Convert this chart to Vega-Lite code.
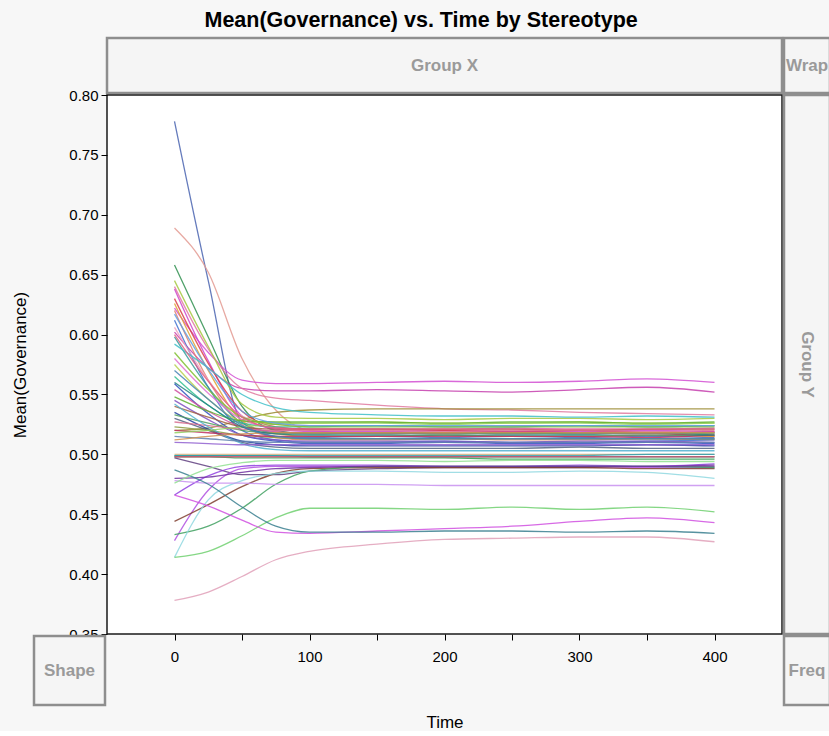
{
"$schema": "https://vega.github.io/schema/vega-lite/v6.json",
"background": "#f7f7f7",
"padding": {"left": 11, "top": 10, "right": 0, "bottom": 0},
"title": {"text": "Mean(Governance) vs. Time by Stereotype", "fontSize": 21.5, "fontWeight": "bold", "font": "Liberation Sans", "color": "#000000", "anchor": "middle", "offset": 5},
"columns": 3,
"spacing": 2,
"bounds": "flush",
"align": "each",
"config": {
  "view": {"stroke": null},
  "font": "Liberation Sans",
  "axis": {"labelFont": "Liberation Sans", "labelFontSize": 15, "labelColor": "#000000", "titleFont": "Liberation Sans", "titleFontSize": 17, "titleFontWeight": "normal", "titleColor": "#000000", "tickColor": "#000000", "tickSize": 6, "domain": false, "grid": false}
},
"datasets": {"gov": [
{"s":"s01","t":0,"v":0.778},{"s":"s01","t":25,"v":0.645},{"s":"s01","t":50,"v":0.527},{"s":"s01","t":75,"v":0.515},{"s":"s01","t":100,"v":0.514},{"s":"s01","t":150,"v":0.515},{"s":"s01","t":200,"v":0.514},{"s":"s01","t":250,"v":0.515},{"s":"s01","t":300,"v":0.514},{"s":"s01","t":350,"v":0.515},{"s":"s01","t":400,"v":0.514},
{"s":"s02","t":0,"v":0.689},{"s":"s02","t":25,"v":0.652},{"s":"s02","t":50,"v":0.58},{"s":"s02","t":75,"v":0.537},{"s":"s02","t":100,"v":0.52},{"s":"s02","t":150,"v":0.517},{"s":"s02","t":200,"v":0.518},{"s":"s02","t":250,"v":0.517},{"s":"s02","t":300,"v":0.518},{"s":"s02","t":350,"v":0.517},{"s":"s02","t":400,"v":0.518},
{"s":"s03","t":0,"v":0.658},{"s":"s03","t":25,"v":0.598},{"s":"s03","t":50,"v":0.54},{"s":"s03","t":75,"v":0.52},{"s":"s03","t":100,"v":0.517},{"s":"s03","t":150,"v":0.518},{"s":"s03","t":200,"v":0.517},{"s":"s03","t":250,"v":0.518},{"s":"s03","t":300,"v":0.517},{"s":"s03","t":350,"v":0.518},{"s":"s03","t":400,"v":0.516},
{"s":"s04","t":0,"v":0.622},{"s":"s04","t":25,"v":0.585},{"s":"s04","t":50,"v":0.562},{"s":"s04","t":75,"v":0.559},{"s":"s04","t":100,"v":0.559},{"s":"s04","t":150,"v":0.56},{"s":"s04","t":200,"v":0.561},{"s":"s04","t":250,"v":0.56},{"s":"s04","t":300,"v":0.561},{"s":"s04","t":350,"v":0.563},{"s":"s04","t":400,"v":0.56},
{"s":"s05","t":0,"v":0.602},{"s":"s05","t":25,"v":0.572},{"s":"s05","t":50,"v":0.555},{"s":"s05","t":75,"v":0.553},{"s":"s05","t":100,"v":0.553},{"s":"s05","t":150,"v":0.554},{"s":"s05","t":200,"v":0.553},{"s":"s05","t":250,"v":0.552},{"s":"s05","t":300,"v":0.554},{"s":"s05","t":350,"v":0.556},{"s":"s05","t":400,"v":0.552},
{"s":"s06","t":0,"v":0.64},{"s":"s06","t":25,"v":0.588},{"s":"s06","t":50,"v":0.555},{"s":"s06","t":75,"v":0.547},{"s":"s06","t":100,"v":0.545},{"s":"s06","t":150,"v":0.541},{"s":"s06","t":200,"v":0.538},{"s":"s06","t":250,"v":0.537},{"s":"s06","t":300,"v":0.535},{"s":"s06","t":350,"v":0.534},{"s":"s06","t":400,"v":0.533},
{"s":"s07","t":0,"v":0.52},{"s":"s07","t":25,"v":0.522},{"s":"s07","t":50,"v":0.529},{"s":"s07","t":75,"v":0.535},{"s":"s07","t":100,"v":0.537},{"s":"s07","t":150,"v":0.538},{"s":"s07","t":200,"v":0.538},{"s":"s07","t":250,"v":0.538},{"s":"s07","t":300,"v":0.538},{"s":"s07","t":350,"v":0.538},{"s":"s07","t":400,"v":0.538},
{"s":"s08","t":0,"v":0.645},{"s":"s08","t":25,"v":0.59},{"s":"s08","t":50,"v":0.542},{"s":"s08","t":75,"v":0.531},{"s":"s08","t":100,"v":0.53},{"s":"s08","t":150,"v":0.53},{"s":"s08","t":200,"v":0.529},{"s":"s08","t":250,"v":0.53},{"s":"s08","t":300,"v":0.53},{"s":"s08","t":350,"v":0.529},{"s":"s08","t":400,"v":0.53},
{"s":"s09","t":0,"v":0.638},{"s":"s09","t":25,"v":0.578},{"s":"s09","t":50,"v":0.532},{"s":"s09","t":75,"v":0.521},{"s":"s09","t":100,"v":0.519},{"s":"s09","t":150,"v":0.519},{"s":"s09","t":200,"v":0.52},{"s":"s09","t":250,"v":0.519},{"s":"s09","t":300,"v":0.519},{"s":"s09","t":350,"v":0.52},{"s":"s09","t":400,"v":0.519},
{"s":"s10","t":0,"v":0.63},{"s":"s10","t":25,"v":0.576},{"s":"s10","t":50,"v":0.536},{"s":"s10","t":75,"v":0.523},{"s":"s10","t":100,"v":0.521},{"s":"s10","t":150,"v":0.521},{"s":"s10","t":200,"v":0.52},{"s":"s10","t":250,"v":0.519},{"s":"s10","t":300,"v":0.52},{"s":"s10","t":350,"v":0.518},{"s":"s10","t":400,"v":0.515},
{"s":"s11","t":0,"v":0.626},{"s":"s11","t":25,"v":0.57},{"s":"s11","t":50,"v":0.528},{"s":"s11","t":75,"v":0.517},{"s":"s11","t":100,"v":0.515},{"s":"s11","t":150,"v":0.515},{"s":"s11","t":200,"v":0.516},{"s":"s11","t":250,"v":0.515},{"s":"s11","t":300,"v":0.515},{"s":"s11","t":350,"v":0.516},{"s":"s11","t":400,"v":0.515},
{"s":"s12","t":0,"v":0.62},{"s":"s12","t":25,"v":0.562},{"s":"s12","t":50,"v":0.525},{"s":"s12","t":75,"v":0.514},{"s":"s12","t":100,"v":0.512},{"s":"s12","t":150,"v":0.512},{"s":"s12","t":200,"v":0.513},{"s":"s12","t":250,"v":0.512},{"s":"s12","t":300,"v":0.512},{"s":"s12","t":350,"v":0.513},{"s":"s12","t":400,"v":0.512},
{"s":"s13","t":0,"v":0.612},{"s":"s13","t":25,"v":0.556},{"s":"s13","t":50,"v":0.52},{"s":"s13","t":75,"v":0.512},{"s":"s13","t":100,"v":0.51},{"s":"s13","t":150,"v":0.51},{"s":"s13","t":200,"v":0.511},{"s":"s13","t":250,"v":0.51},{"s":"s13","t":300,"v":0.51},{"s":"s13","t":350,"v":0.511},{"s":"s13","t":400,"v":0.512},
{"s":"s14","t":0,"v":0.606},{"s":"s14","t":25,"v":0.562},{"s":"s14","t":50,"v":0.532},{"s":"s14","t":75,"v":0.525},{"s":"s14","t":100,"v":0.524},{"s":"s14","t":150,"v":0.524},{"s":"s14","t":200,"v":0.523},{"s":"s14","t":250,"v":0.524},{"s":"s14","t":300,"v":0.524},{"s":"s14","t":350,"v":0.523},{"s":"s14","t":400,"v":0.524},
{"s":"s15","t":0,"v":0.598},{"s":"s15","t":25,"v":0.556},{"s":"s15","t":50,"v":0.526},{"s":"s15","t":75,"v":0.518},{"s":"s15","t":100,"v":0.517},{"s":"s15","t":150,"v":0.517},{"s":"s15","t":200,"v":0.518},{"s":"s15","t":250,"v":0.517},{"s":"s15","t":300,"v":0.517},{"s":"s15","t":350,"v":0.518},{"s":"s15","t":400,"v":0.517},
{"s":"s16","t":0,"v":0.592},{"s":"s16","t":25,"v":0.572},{"s":"s16","t":50,"v":0.55},{"s":"s16","t":75,"v":0.539},{"s":"s16","t":100,"v":0.535},{"s":"s16","t":150,"v":0.533},{"s":"s16","t":200,"v":0.532},{"s":"s16","t":250,"v":0.532},{"s":"s16","t":300,"v":0.531},{"s":"s16","t":350,"v":0.532},{"s":"s16","t":400,"v":0.531},
{"s":"s17","t":0,"v":0.58},{"s":"s17","t":25,"v":0.551},{"s":"s17","t":50,"v":0.529},{"s":"s17","t":75,"v":0.522},{"s":"s17","t":100,"v":0.521},{"s":"s17","t":150,"v":0.521},{"s":"s17","t":200,"v":0.521},{"s":"s17","t":250,"v":0.522},{"s":"s17","t":300,"v":0.521},{"s":"s17","t":350,"v":0.521},{"s":"s17","t":400,"v":0.522},
{"s":"s18","t":0,"v":0.575},{"s":"s18","t":25,"v":0.546},{"s":"s18","t":50,"v":0.528},{"s":"s18","t":75,"v":0.526},{"s":"s18","t":100,"v":0.526},{"s":"s18","t":150,"v":0.527},{"s":"s18","t":200,"v":0.526},{"s":"s18","t":250,"v":0.526},{"s":"s18","t":300,"v":0.527},{"s":"s18","t":350,"v":0.526},{"s":"s18","t":400,"v":0.526},
{"s":"s19","t":0,"v":0.565},{"s":"s19","t":25,"v":0.541},{"s":"s19","t":50,"v":0.526},{"s":"s19","t":75,"v":0.523},{"s":"s19","t":100,"v":0.523},{"s":"s19","t":150,"v":0.524},{"s":"s19","t":200,"v":0.523},{"s":"s19","t":250,"v":0.523},{"s":"s19","t":300,"v":0.524},{"s":"s19","t":350,"v":0.523},{"s":"s19","t":400,"v":0.524},
{"s":"s20","t":0,"v":0.559},{"s":"s20","t":25,"v":0.534},{"s":"s20","t":50,"v":0.516},{"s":"s20","t":75,"v":0.511},{"s":"s20","t":100,"v":0.509},{"s":"s20","t":150,"v":0.509},{"s":"s20","t":200,"v":0.51},{"s":"s20","t":250,"v":0.509},{"s":"s20","t":300,"v":0.509},{"s":"s20","t":350,"v":0.51},{"s":"s20","t":400,"v":0.509},
{"s":"s21","t":0,"v":0.554},{"s":"s21","t":25,"v":0.536},{"s":"s21","t":50,"v":0.523},{"s":"s21","t":75,"v":0.519},{"s":"s21","t":100,"v":0.518},{"s":"s21","t":150,"v":0.518},{"s":"s21","t":200,"v":0.518},{"s":"s21","t":250,"v":0.519},{"s":"s21","t":300,"v":0.518},{"s":"s21","t":350,"v":0.518},{"s":"s21","t":400,"v":0.519},
{"s":"s22","t":0,"v":0.548},{"s":"s22","t":25,"v":0.536},{"s":"s22","t":50,"v":0.528},{"s":"s22","t":75,"v":0.527},{"s":"s22","t":100,"v":0.527},{"s":"s22","t":150,"v":0.527},{"s":"s22","t":200,"v":0.526},{"s":"s22","t":250,"v":0.527},{"s":"s22","t":300,"v":0.527},{"s":"s22","t":350,"v":0.526},{"s":"s22","t":400,"v":0.527},
{"s":"s23","t":0,"v":0.545},{"s":"s23","t":25,"v":0.529},{"s":"s23","t":50,"v":0.516},{"s":"s23","t":75,"v":0.512},{"s":"s23","t":100,"v":0.511},{"s":"s23","t":150,"v":0.511},{"s":"s23","t":200,"v":0.511},{"s":"s23","t":250,"v":0.51},{"s":"s23","t":300,"v":0.511},{"s":"s23","t":350,"v":0.511},{"s":"s23","t":400,"v":0.51},
{"s":"s24","t":0,"v":0.54},{"s":"s24","t":25,"v":0.531},{"s":"s24","t":50,"v":0.523},{"s":"s24","t":75,"v":0.521},{"s":"s24","t":100,"v":0.521},{"s":"s24","t":150,"v":0.521},{"s":"s24","t":200,"v":0.521},{"s":"s24","t":250,"v":0.521},{"s":"s24","t":300,"v":0.52},{"s":"s24","t":350,"v":0.521},{"s":"s24","t":400,"v":0.521},
{"s":"s25","t":0,"v":0.535},{"s":"s25","t":25,"v":0.521},{"s":"s25","t":50,"v":0.511},{"s":"s25","t":75,"v":0.508},{"s":"s25","t":100,"v":0.507},{"s":"s25","t":150,"v":0.507},{"s":"s25","t":200,"v":0.507},{"s":"s25","t":250,"v":0.507},{"s":"s25","t":300,"v":0.507},{"s":"s25","t":350,"v":0.508},{"s":"s25","t":400,"v":0.507},
{"s":"s26","t":0,"v":0.533},{"s":"s26","t":25,"v":0.526},{"s":"s26","t":50,"v":0.52},{"s":"s26","t":75,"v":0.518},{"s":"s26","t":100,"v":0.518},{"s":"s26","t":150,"v":0.518},{"s":"s26","t":200,"v":0.518},{"s":"s26","t":250,"v":0.518},{"s":"s26","t":300,"v":0.518},{"s":"s26","t":350,"v":0.518},{"s":"s26","t":400,"v":0.518},
{"s":"s27","t":0,"v":0.53},{"s":"s27","t":25,"v":0.52},{"s":"s27","t":50,"v":0.51},{"s":"s27","t":75,"v":0.506},{"s":"s27","t":100,"v":0.505},{"s":"s27","t":150,"v":0.505},{"s":"s27","t":200,"v":0.505},{"s":"s27","t":250,"v":0.505},{"s":"s27","t":300,"v":0.506},{"s":"s27","t":350,"v":0.505},{"s":"s27","t":400,"v":0.505},
{"s":"s28","t":0,"v":0.527},{"s":"s28","t":25,"v":0.524},{"s":"s28","t":50,"v":0.521},{"s":"s28","t":75,"v":0.52},{"s":"s28","t":100,"v":0.52},{"s":"s28","t":150,"v":0.52},{"s":"s28","t":200,"v":0.519},{"s":"s28","t":250,"v":0.52},{"s":"s28","t":300,"v":0.52},{"s":"s28","t":350,"v":0.519},{"s":"s28","t":400,"v":0.52},
{"s":"s29","t":0,"v":0.523},{"s":"s29","t":25,"v":0.52},{"s":"s29","t":50,"v":0.516},{"s":"s29","t":75,"v":0.514},{"s":"s29","t":100,"v":0.513},{"s":"s29","t":150,"v":0.513},{"s":"s29","t":200,"v":0.513},{"s":"s29","t":250,"v":0.513},{"s":"s29","t":300,"v":0.513},{"s":"s29","t":350,"v":0.513},{"s":"s29","t":400,"v":0.513},
{"s":"s30","t":0,"v":0.542},{"s":"s30","t":25,"v":0.523},{"s":"s30","t":50,"v":0.509},{"s":"s30","t":75,"v":0.504},{"s":"s30","t":100,"v":0.503},{"s":"s30","t":150,"v":0.503},{"s":"s30","t":200,"v":0.503},{"s":"s30","t":250,"v":0.503},{"s":"s30","t":300,"v":0.503},{"s":"s30","t":350,"v":0.503},{"s":"s30","t":400,"v":0.503},
{"s":"s31","t":0,"v":0.52},{"s":"s31","t":25,"v":0.518},{"s":"s31","t":50,"v":0.516},{"s":"s31","t":75,"v":0.515},{"s":"s31","t":100,"v":0.515},{"s":"s31","t":150,"v":0.515},{"s":"s31","t":200,"v":0.515},{"s":"s31","t":250,"v":0.515},{"s":"s31","t":300,"v":0.515},{"s":"s31","t":350,"v":0.514},{"s":"s31","t":400,"v":0.516},
{"s":"s32","t":0,"v":0.518},{"s":"s32","t":25,"v":0.52},{"s":"s32","t":50,"v":0.523},{"s":"s32","t":75,"v":0.525},{"s":"s32","t":100,"v":0.526},{"s":"s32","t":150,"v":0.526},{"s":"s32","t":200,"v":0.525},{"s":"s32","t":250,"v":0.526},{"s":"s32","t":300,"v":0.526},{"s":"s32","t":350,"v":0.525},{"s":"s32","t":400,"v":0.526},
{"s":"s33","t":0,"v":0.515},{"s":"s33","t":25,"v":0.513},{"s":"s33","t":50,"v":0.511},{"s":"s33","t":75,"v":0.51},{"s":"s33","t":100,"v":0.51},{"s":"s33","t":150,"v":0.51},{"s":"s33","t":200,"v":0.51},{"s":"s33","t":250,"v":0.51},{"s":"s33","t":300,"v":0.51},{"s":"s33","t":350,"v":0.51},{"s":"s33","t":400,"v":0.51},
{"s":"s34","t":0,"v":0.512},{"s":"s34","t":25,"v":0.515},{"s":"s34","t":50,"v":0.517},{"s":"s34","t":75,"v":0.518},{"s":"s34","t":100,"v":0.518},{"s":"s34","t":150,"v":0.518},{"s":"s34","t":200,"v":0.518},{"s":"s34","t":250,"v":0.518},{"s":"s34","t":300,"v":0.518},{"s":"s34","t":350,"v":0.518},{"s":"s34","t":400,"v":0.518},
{"s":"s35","t":0,"v":0.51},{"s":"s35","t":25,"v":0.509},{"s":"s35","t":50,"v":0.508},{"s":"s35","t":75,"v":0.508},{"s":"s35","t":100,"v":0.508},{"s":"s35","t":150,"v":0.508},{"s":"s35","t":200,"v":0.508},{"s":"s35","t":250,"v":0.508},{"s":"s35","t":300,"v":0.508},{"s":"s35","t":350,"v":0.508},{"s":"s35","t":400,"v":0.508},
{"s":"s36","t":0,"v":0.56},{"s":"s36","t":25,"v":0.541},{"s":"s36","t":50,"v":0.523},{"s":"s36","t":75,"v":0.517},{"s":"s36","t":100,"v":0.516},{"s":"s36","t":150,"v":0.516},{"s":"s36","t":200,"v":0.516},{"s":"s36","t":250,"v":0.516},{"s":"s36","t":300,"v":0.516},{"s":"s36","t":350,"v":0.516},{"s":"s36","t":400,"v":0.516},
{"s":"s37","t":0,"v":0.57},{"s":"s37","t":25,"v":0.546},{"s":"s37","t":50,"v":0.524},{"s":"s37","t":75,"v":0.515},{"s":"s37","t":100,"v":0.513},{"s":"s37","t":150,"v":0.513},{"s":"s37","t":200,"v":0.513},{"s":"s37","t":250,"v":0.513},{"s":"s37","t":300,"v":0.513},{"s":"s37","t":350,"v":0.513},{"s":"s37","t":400,"v":0.513},
{"s":"s38","t":0,"v":0.585},{"s":"s38","t":25,"v":0.554},{"s":"s38","t":50,"v":0.531},{"s":"s38","t":75,"v":0.525},{"s":"s38","t":100,"v":0.523},{"s":"s38","t":150,"v":0.523},{"s":"s38","t":200,"v":0.523},{"s":"s38","t":250,"v":0.523},{"s":"s38","t":300,"v":0.523},{"s":"s38","t":350,"v":0.523},{"s":"s38","t":400,"v":0.523},
{"s":"s39","t":0,"v":0.6},{"s":"s39","t":25,"v":0.561},{"s":"s39","t":50,"v":0.531},{"s":"s39","t":75,"v":0.522},{"s":"s39","t":100,"v":0.521},{"s":"s39","t":150,"v":0.521},{"s":"s39","t":200,"v":0.521},{"s":"s39","t":250,"v":0.521},{"s":"s39","t":300,"v":0.521},{"s":"s39","t":350,"v":0.521},{"s":"s39","t":400,"v":0.521},
{"s":"s40","t":0,"v":0.617},{"s":"s40","t":25,"v":0.571},{"s":"s40","t":50,"v":0.536},{"s":"s40","t":75,"v":0.526},{"s":"s40","t":100,"v":0.524},{"s":"s40","t":150,"v":0.524},{"s":"s40","t":200,"v":0.524},{"s":"s40","t":250,"v":0.524},{"s":"s40","t":300,"v":0.524},{"s":"s40","t":350,"v":0.524},{"s":"s40","t":400,"v":0.524},
{"s":"s41","t":0,"v":0.499},{"s":"s41","t":25,"v":0.499},{"s":"s41","t":50,"v":0.499},{"s":"s41","t":75,"v":0.499},{"s":"s41","t":100,"v":0.498},{"s":"s41","t":150,"v":0.498},{"s":"s41","t":200,"v":0.498},{"s":"s41","t":250,"v":0.498},{"s":"s41","t":300,"v":0.498},{"s":"s41","t":350,"v":0.498},{"s":"s41","t":400,"v":0.498},
{"s":"s42","t":0,"v":0.5},{"s":"s42","t":25,"v":0.5},{"s":"s42","t":50,"v":0.5},{"s":"s42","t":75,"v":0.5},{"s":"s42","t":100,"v":0.5},{"s":"s42","t":150,"v":0.5},{"s":"s42","t":200,"v":0.5},{"s":"s42","t":250,"v":0.5},{"s":"s42","t":300,"v":0.5},{"s":"s42","t":350,"v":0.5},{"s":"s42","t":400,"v":0.5},
{"s":"s43","t":0,"v":0.498},{"s":"s43","t":25,"v":0.498},{"s":"s43","t":50,"v":0.497},{"s":"s43","t":75,"v":0.497},{"s":"s43","t":100,"v":0.497},{"s":"s43","t":150,"v":0.497},{"s":"s43","t":200,"v":0.497},{"s":"s43","t":250,"v":0.496},{"s":"s43","t":300,"v":0.496},{"s":"s43","t":350,"v":0.496},{"s":"s43","t":400,"v":0.496},
{"s":"s44","t":0,"v":0.499},{"s":"s44","t":25,"v":0.499},{"s":"s44","t":50,"v":0.499},{"s":"s44","t":75,"v":0.499},{"s":"s44","t":100,"v":0.499},{"s":"s44","t":150,"v":0.499},{"s":"s44","t":200,"v":0.499},{"s":"s44","t":250,"v":0.499},{"s":"s44","t":300,"v":0.499},{"s":"s44","t":350,"v":0.5},{"s":"s44","t":400,"v":0.5},
{"s":"s45","t":0,"v":0.498},{"s":"s45","t":25,"v":0.498},{"s":"s45","t":50,"v":0.498},{"s":"s45","t":75,"v":0.498},{"s":"s45","t":100,"v":0.498},{"s":"s45","t":150,"v":0.498},{"s":"s45","t":200,"v":0.498},{"s":"s45","t":250,"v":0.498},{"s":"s45","t":300,"v":0.498},{"s":"s45","t":350,"v":0.498},{"s":"s45","t":400,"v":0.498},
{"s":"s46","t":0,"v":0.497},{"s":"s46","t":25,"v":0.49},{"s":"s46","t":50,"v":0.483},{"s":"s46","t":75,"v":0.483},{"s":"s46","t":100,"v":0.486},{"s":"s46","t":150,"v":0.488},{"s":"s46","t":200,"v":0.489},{"s":"s46","t":250,"v":0.489},{"s":"s46","t":300,"v":0.489},{"s":"s46","t":350,"v":0.49},{"s":"s46","t":400,"v":0.49},
{"s":"s47","t":0,"v":0.466},{"s":"s47","t":25,"v":0.482},{"s":"s47","t":50,"v":0.49},{"s":"s47","t":75,"v":0.491},{"s":"s47","t":100,"v":0.491},{"s":"s47","t":150,"v":0.491},{"s":"s47","t":200,"v":0.49},{"s":"s47","t":250,"v":0.49},{"s":"s47","t":300,"v":0.491},{"s":"s47","t":350,"v":0.49},{"s":"s47","t":400,"v":0.492},
{"s":"s48","t":0,"v":0.428},{"s":"s48","t":25,"v":0.47},{"s":"s48","t":50,"v":0.488},{"s":"s48","t":75,"v":0.49},{"s":"s48","t":100,"v":0.49},{"s":"s48","t":150,"v":0.49},{"s":"s48","t":200,"v":0.49},{"s":"s48","t":250,"v":0.49},{"s":"s48","t":300,"v":0.49},{"s":"s48","t":350,"v":0.489},{"s":"s48","t":400,"v":0.489},
{"s":"s49","t":0,"v":0.444},{"s":"s49","t":25,"v":0.458},{"s":"s49","t":50,"v":0.473},{"s":"s49","t":75,"v":0.484},{"s":"s49","t":100,"v":0.488},{"s":"s49","t":150,"v":0.489},{"s":"s49","t":200,"v":0.489},{"s":"s49","t":250,"v":0.489},{"s":"s49","t":300,"v":0.489},{"s":"s49","t":350,"v":0.488},{"s":"s49","t":400,"v":0.488},
{"s":"s50","t":0,"v":0.433},{"s":"s50","t":25,"v":0.44},{"s":"s50","t":50,"v":0.455},{"s":"s50","t":75,"v":0.475},{"s":"s50","t":100,"v":0.486},{"s":"s50","t":150,"v":0.49},{"s":"s50","t":200,"v":0.49},{"s":"s50","t":250,"v":0.49},{"s":"s50","t":300,"v":0.49},{"s":"s50","t":350,"v":0.49},{"s":"s50","t":400,"v":0.489},
{"s":"s51","t":0,"v":0.414},{"s":"s51","t":25,"v":0.462},{"s":"s51","t":50,"v":0.478},{"s":"s51","t":75,"v":0.484},{"s":"s51","t":100,"v":0.486},{"s":"s51","t":150,"v":0.486},{"s":"s51","t":200,"v":0.485},{"s":"s51","t":250,"v":0.485},{"s":"s51","t":300,"v":0.486},{"s":"s51","t":350,"v":0.485},{"s":"s51","t":400,"v":0.48},
{"s":"s52","t":0,"v":0.478},{"s":"s52","t":25,"v":0.476},{"s":"s52","t":50,"v":0.476},{"s":"s52","t":75,"v":0.475},{"s":"s52","t":100,"v":0.475},{"s":"s52","t":150,"v":0.475},{"s":"s52","t":200,"v":0.474},{"s":"s52","t":250,"v":0.474},{"s":"s52","t":300,"v":0.474},{"s":"s52","t":350,"v":0.474},{"s":"s52","t":400,"v":0.474},
{"s":"s53","t":0,"v":0.48},{"s":"s53","t":25,"v":0.481},{"s":"s53","t":50,"v":0.485},{"s":"s53","t":75,"v":0.488},{"s":"s53","t":100,"v":0.489},{"s":"s53","t":150,"v":0.49},{"s":"s53","t":200,"v":0.49},{"s":"s53","t":250,"v":0.49},{"s":"s53","t":300,"v":0.49},{"s":"s53","t":350,"v":0.49},{"s":"s53","t":400,"v":0.491},
{"s":"s54","t":0,"v":0.414},{"s":"s54","t":25,"v":0.419},{"s":"s54","t":50,"v":0.432},{"s":"s54","t":75,"v":0.447},{"s":"s54","t":100,"v":0.455},{"s":"s54","t":150,"v":0.455},{"s":"s54","t":200,"v":0.454},{"s":"s54","t":250,"v":0.456},{"s":"s54","t":300,"v":0.454},{"s":"s54","t":350,"v":0.456},{"s":"s54","t":400,"v":0.452},
{"s":"s55","t":0,"v":0.466},{"s":"s55","t":25,"v":0.457},{"s":"s55","t":50,"v":0.445},{"s":"s55","t":75,"v":0.435},{"s":"s55","t":100,"v":0.434},{"s":"s55","t":150,"v":0.436},{"s":"s55","t":200,"v":0.438},{"s":"s55","t":250,"v":0.44},{"s":"s55","t":300,"v":0.444},{"s":"s55","t":350,"v":0.447},{"s":"s55","t":400,"v":0.443},
{"s":"s56","t":0,"v":0.487},{"s":"s56","t":25,"v":0.475},{"s":"s56","t":50,"v":0.456},{"s":"s56","t":75,"v":0.44},{"s":"s56","t":100,"v":0.435},{"s":"s56","t":150,"v":0.435},{"s":"s56","t":200,"v":0.436},{"s":"s56","t":250,"v":0.436},{"s":"s56","t":300,"v":0.435},{"s":"s56","t":350,"v":0.436},{"s":"s56","t":400,"v":0.434},
{"s":"s57","t":0,"v":0.378},{"s":"s57","t":25,"v":0.385},{"s":"s57","t":50,"v":0.398},{"s":"s57","t":75,"v":0.412},{"s":"s57","t":100,"v":0.419},{"s":"s57","t":150,"v":0.425},{"s":"s57","t":200,"v":0.429},{"s":"s57","t":250,"v":0.43},{"s":"s57","t":300,"v":0.431},{"s":"s57","t":350,"v":0.431},{"s":"s57","t":400,"v":0.427},
{"s":"s58","t":0,"v":0.476},{"s":"s58","t":25,"v":0.488},{"s":"s58","t":50,"v":0.493},{"s":"s58","t":75,"v":0.495},{"s":"s58","t":100,"v":0.495},{"s":"s58","t":150,"v":0.495},{"s":"s58","t":200,"v":0.494},{"s":"s58","t":250,"v":0.495},{"s":"s58","t":300,"v":0.495},{"s":"s58","t":350,"v":0.494},{"s":"s58","t":400,"v":0.494}
]},
"concat": [
  {"width": 71, "height": 55, "data": {"values": [{"label": ""}]}, "mark": {"type": "text"}, "encoding": {"text": {"field": "label"}}},
  {"width": 675, "height": 55, "view": {"stroke": "#8e8e8e", "strokeWidth": 2.5, "fill": "#f5f5f5"}, "data": {"values": [{"label": "Group X"}]}, "mark": {"type": "text", "fontSize": 17, "fontWeight": "bold", "fill": "#9a9a9a", "font": "Liberation Sans"}, "encoding": {"text": {"field": "label"}}},
  {"width": 46, "height": 55, "view": {"stroke": "#8e8e8e", "strokeWidth": 2.5, "fill": "#f5f5f5"}, "data": {"values": [{"label": "Wrap"}]}, "mark": {"type": "text", "fontSize": 17, "fontWeight": "bold", "fill": "#9a9a9a", "font": "Liberation Sans"}, "encoding": {"text": {"field": "label"}}},
  {"width": 71, "height": 539, "data": {"values": [{"label": ""}]}, "mark": {"type": "text"}, "encoding": {"text": {"field": "label"}}},
  {
    "width": 675, "height": 539,
    "view": {"stroke": "#1a1a1a", "strokeWidth": 1.5, "fill": "#ffffff"},
    "data": {"name": "gov"},
    "mark": {"type": "line", "interpolate": "monotone", "strokeWidth": 1.3, "opacity": 0.85, "clip": true},
    "encoding": {
      "x": {"field": "t", "type": "quantitative", "scale": {"domain": [-50, 450], "nice": false, "zero": false},
            "axis": {"title": "Time", "values": [0,50,100,150,200,250,300,350,400], "labelExpr": "datum.value % 100 === 0 ? datum.label : ''", "labelPadding": 9, "titlePadding": 50}},
      "y": {"field": "v", "type": "quantitative", "scale": {"domain": [0.35, 0.8], "nice": false, "zero": false},
            "axis": {"title": "Mean(Governance)", "values": [0.35,0.4,0.45,0.5,0.55,0.6,0.65,0.7,0.75,0.8], "format": ".2f", "labelPadding": 3, "titlePadding": 39}},
      "color": {"field": "s", "type": "nominal", "legend": null, "scale": {"range": ["#4a64b0","#e39a92","#2f8f4f","#d24fd2","#c63fae","#e07aa0","#9a8a30","#a6c840","#cc44cc","#d8404a","#e0a030","#e08070","#4070d0","#f0a0c0","#3a9a9a","#40c0c8","#e070d0","#b8d050","#30c090","#3050c0","#d050a0","#60b030","#8050c0","#a06040","#2040a0","#50a060","#506080","#d87090","#8a9a40","#50b0d0","#c03060","#90d060","#6080b0","#d09050","#9060d0","#208080","#4682b4","#80c030","#e06080","#60a0e0","#20a080","#d0b080","#30a050","#30a0b0","#d05070","#604080","#9040e0","#b050e0","#804030","#40a060","#90d8e0","#c890f0","#7030a0","#70d070","#d050e0","#3a7f8f","#e0a0b8","#90e090"]}}
    }
  },
  {"width": 46, "height": 539, "view": {"stroke": "#8e8e8e", "strokeWidth": 2.5, "fill": "#f5f5f5"}, "data": {"values": [{"label": "Group Y"}]}, "mark": {"type": "text", "fontSize": 17, "fontWeight": "bold", "fill": "#9a9a9a", "angle": 90, "font": "Liberation Sans"}, "encoding": {"text": {"field": "label"}}},
  {"width": 71, "height": 69, "view": {"stroke": "#8e8e8e", "strokeWidth": 2.5, "fill": "#f5f5f5"}, "data": {"values": [{"label": "Shape"}]}, "mark": {"type": "text", "fontSize": 17, "fontWeight": "bold", "fill": "#9a9a9a", "font": "Liberation Sans"}, "encoding": {"text": {"field": "label"}}},
  {"width": 675, "height": 69, "data": {"values": [{"label": ""}]}, "mark": {"type": "text"}, "encoding": {"text": {"field": "label"}}},
  {"width": 46, "height": 69, "view": {"stroke": "#8e8e8e", "strokeWidth": 2.5, "fill": "#f5f5f5"}, "data": {"values": [{"label": "Freq"}]}, "mark": {"type": "text", "fontSize": 17, "fontWeight": "bold", "fill": "#9a9a9a", "font": "Liberation Sans"}, "encoding": {"text": {"field": "label"}}}
]
}
